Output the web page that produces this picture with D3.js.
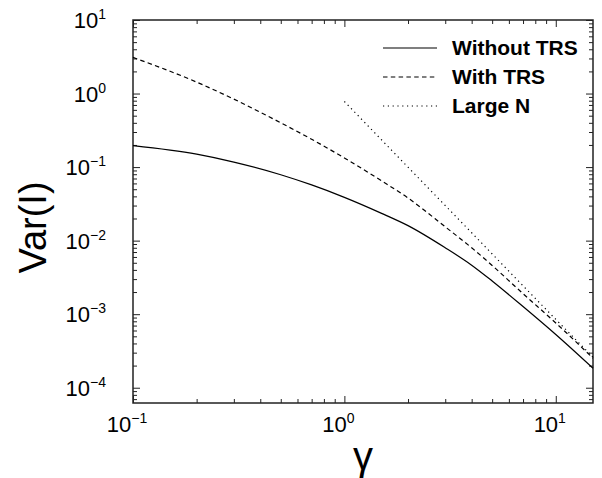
<!DOCTYPE html>
<html>
<head>
<meta charset="utf-8">
<script src="https://cdn.jsdelivr.net/npm/d3@7"></script>
<style>
  body { margin: 0; background: #fff; }
  text { font-family: "Liberation Sans", Arial, sans-serif; fill: #000; }
</style>
</head>
<body>
<svg width="602" height="478"></svg>
<script>
// values
const gamma = [0.1, 0.2, 0.3, 0.5, 0.7, 1, 1.5, 2, 3, 4, 5, 7, 10, 15];
const withoutTRS = [0.196, 0.150, 0.117, 0.0787, 0.0572, 0.0388, 0.0235, 0.0160, 0.0080, 0.00464, 0.00283, 0.00127, 0.000529, 0.000184];
const withTRS = [3.1, 1.43, 0.84, 0.40, 0.239, 0.133, 0.065, 0.038, 0.0154, 0.0080, 0.0046, 0.0019, 0.00076, 0.000252];
const largeNGamma = [1, 2, 4, 8, 15];
const largeN = [0.78, 0.0997, 0.0128, 0.00164, 0.00026];

const xDecades = [-1, 0, 1];
const yDecades = [-4, -3, -2, -1, 0, 1];

const legendLabels = ['Without TRS', 'With TRS', 'Large N'];
const dashes = [null, '4.5,3.3', '1.2,3.6'];

const svg = d3.select('svg');
const margin = { left: 133, top: 20, right: 9, bottom: 75 };
const width = +svg.attr('width') - margin.left - margin.right;
const height = +svg.attr('height') - margin.top - margin.bottom;

const x = d3.scaleLog().domain([0.1, 15]).range([0, width]);
const y = d3.scaleLog().domain([6.2e-5, 10]).range([height, 0]);

const g = svg.append('g')
    .attr('transform', `translate(${margin.left}, ${margin.top})`);

// ticks point inward on all four sides
const isMajor = v => Math.abs(Math.log10(v) - Math.round(Math.log10(v))) < 1e-9;
const minorX = x.ticks().filter(v => !isMajor(v));
const majorX = x.ticks().filter(isMajor);
const minorY = y.ticks().filter(v => !isMajor(v));
const majorY = y.ticks().filter(isMajor);

const axes = [
  [d3.axisBottom(x), `translate(0, ${height})`, minorX, majorX],
  [d3.axisTop(x), null, minorX, majorX],
  [d3.axisLeft(y), null, minorY, majorY],
  [d3.axisRight(y), `translate(${width}, 0)`, minorY, majorY]
];
axes.forEach(([axis, tr, minor, major]) => {
  [[minor, 4], [major, 7]].forEach(([vals, size]) => {
    const a = g.append('g')
        .attr('transform', tr)
        .call(axis.tickValues(vals).tickSize(-size).tickFormat(''));
    a.select('.domain').remove();
    a.selectAll('line').attr('stroke', '#222').attr('stroke-width', 1);
  });
});

g.append('rect')
    .attr('width', width)
    .attr('height', height)
    .attr('fill', 'none')
    .attr('stroke', '#222')
    .attr('stroke-width', 1.5);

// tick labels as 10 with superscript exponent
const pow = (sel, e) => {
  sel.append('tspan').text('10');
  sel.append('tspan')
      .attr('font-size', 14)
      .attr('dy', -9)
      .text(e < 0 ? '\u2212' + (-e) : e);
};

yDecades.forEach(e => {
  g.append('text')
      .attr('x', -27)
      .attr('y', y(Math.pow(10, e)) + 8)
      .attr('text-anchor', 'end')
      .attr('font-size', 22)
      .call(pow, e);
});

xDecades.forEach(e => {
  g.append('text')
      .attr('x', x(Math.pow(10, e)) - 6)
      .attr('y', height + 29)
      .attr('text-anchor', 'middle')
      .attr('font-size', 22)
      .call(pow, e);
});

g.append('text')
    .attr('transform', `translate(-87, ${height / 2 + 16}) rotate(-90)`)
    .attr('text-anchor', 'middle')
    .attr('font-size', 38)
    .text('Var(I)');

g.append('text')
    .attr('x', width / 2)
    .attr('y', height + 67)
    .attr('text-anchor', 'middle')
    .attr('font-size', 40)
    .text('\u03b3');

// curves
const line = d3.line()
    .x(d => x(d[0]))
    .y(d => y(d[1]))
    .curve(d3.curveMonotoneX);

const series = [
  d3.zip(gamma, withoutTRS),
  d3.zip(gamma, withTRS),
  d3.zip(largeNGamma, largeN)
];

series.forEach((data, i) => {
  g.append('path')
      .datum(data)
      .attr('d', line)
      .attr('fill', 'none')
      .attr('stroke', '#000')
      .attr('stroke-width', 1.2)
      .attr('stroke-dasharray', dashes[i]);
});

// legend
const legend = g.append('g')
    .attr('transform', 'translate(250, 28)');

legendLabels.forEach((label, i) => {
  legend.append('line')
      .attr('x1', 0)
      .attr('x2', 54)
      .attr('y1', i * 29)
      .attr('y2', i * 29)
      .attr('stroke', '#000')
      .attr('stroke-width', 1.2)
      .attr('stroke-dasharray', dashes[i]);
  legend.append('text')
      .attr('x', 69)
      .attr('y', i * 29 + 7)
      .attr('font-size', 21)
      .attr('font-weight', 'bold')
      .text(label);
});
</script>
</body>
</html>
